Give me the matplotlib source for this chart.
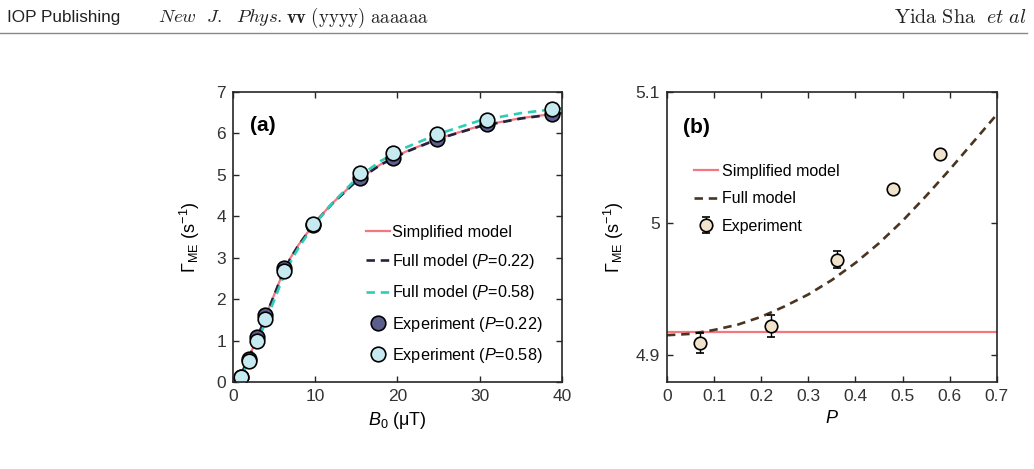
import matplotlib
matplotlib.use("Agg")
import matplotlib.pyplot as plt
from matplotlib.ticker import MultipleLocator, FuncFormatter
from matplotlib.lines import Line2D

plt.rcParams['font.family'] = ['Liberation Sans', 'DejaVu Sans']
plt.rcParams['mathtext.fontset'] = 'custom'
plt.rcParams['mathtext.rm'] = 'Liberation Sans'
plt.rcParams['mathtext.it'] = 'Liberation Sans:italic'
plt.rcParams['mathtext.bf'] = 'Liberation Sans:bold'

# ---- panel (a) data ----
b_exp = [0.97, 1.9, 2.9, 3.9, 6.2, 9.7, 15.5, 19.4, 24.8, 30.9, 38.8]
g_exp_022 = [0.12, 0.55, 1.08, 1.62, 2.75, 3.80, 4.93, 5.40, 5.87, 6.22, 6.47]
g_exp_058 = [0.12, 0.50, 1.00, 1.53, 2.68, 3.82, 5.05, 5.52, 5.98, 6.32, 6.58]

b_model = [0, 1, 2, 3, 4, 5, 6, 7, 8, 10, 12, 15, 18, 21, 25, 30, 35, 40]
g_simple = [0, 0.20, 0.62, 1.10, 1.60, 2.10, 2.60, 3.00, 3.32, 3.86, 4.30, 4.86, 5.26, 5.56, 5.88, 6.18, 6.37, 6.50]
g_full_022 = [0, 0.19, 0.61, 1.09, 1.59, 2.09, 2.59, 2.99, 3.31, 3.85, 4.29, 4.85, 5.25, 5.55, 5.87, 6.17, 6.36, 6.49]
g_full_058 = [0, 0.14, 0.50, 0.97, 1.47, 1.97, 2.47, 2.90, 3.25, 3.83, 4.30, 4.91, 5.34, 5.66, 5.99, 6.31, 6.49, 6.61]

# ---- panel (b) data ----
p_exp = [0.07, 0.22, 0.36, 0.48, 0.58]
g_exp_b = [4.909, 4.922, 4.9725, 5.0265, 5.053]
g_err_b = [0.0075, 0.0085, 0.0066, 0.003, 0.003]

p_model = [0, 0.05, 0.1, 0.15, 0.2, 0.25, 0.3, 0.35, 0.4, 0.45, 0.5, 0.55, 0.6, 0.65, 0.7]
g_simple_b = [4.9178] * len(p_model)
g_full_b = [4.915, 4.916, 4.919, 4.923, 4.929, 4.937, 4.946, 4.957, 4.970,
            4.985, 5.002, 5.021, 5.041, 5.062, 5.083]

c_simple = '#f4777f'
c_full022 = '#23233f'
c_full058 = '#2fcdb8'
c_exp022 = '#5c5f8d'
c_exp058 = '#c6eaf0'
c_fullb = '#4a3520'
c_expb = '#f0e2cb'
c_axis = '#262626'
dash = (0, (3.2, 2.2))

fig = plt.figure(figsize=(10.34, 4.69), dpi=100)

# header
fig.text(0.007, 0.962, 'IOP Publishing', fontsize=12.3, va='center', color='#222222')
fig.text(0.153, 0.962, r'$New\ \ J.\ \ Phys.$', fontsize=13.5, va='center',
         math_fontfamily='cm', color='#222222')
fig.text(0.2765, 0.962, r'$\mathbf{vv}$ $\mathrm{(yyyy)\ aaaaaa}$', fontsize=13.5, va='center',
         math_fontfamily='cm', color='#222222')
fig.text(0.993, 0.962, r'$\mathrm{Yida\ Sha}\ \ et\ al$', fontsize=14.5, va='center',
         ha='right', math_fontfamily='cm', color='#222222')
fig.add_artist(Line2D([0, 0.993], [0.929, 0.929], color='#888888', lw=1.0))

ax1 = fig.add_axes([0.2253, 0.1855, 0.3182, 0.6183])
ax2 = fig.add_axes([0.645, 0.1855, 0.3191, 0.6183])

for ax in (ax1, ax2):
    for s in ax.spines.values():
        s.set_color(c_axis)
        s.set_linewidth(1.2)
    ax.tick_params(direction='in', top=True, right=True, length=4.5, width=1.0,
                   colors=c_axis, labelsize=12.5, pad=5)
    ax.tick_params(labelcolor='#333333')

# panel (a)
ax1.plot(b_model, g_simple, color=c_simple, lw=1.6, label='Simplified model')
ax1.plot(b_model, g_full_022, color=c_full022, lw=1.9, ls=dash, label=r'Full model ($P$=0.22)')
ax1.plot(b_model, g_full_058, color=c_full058, lw=1.9, ls=dash, label=r'Full model ($P$=0.58)')
ax1.plot(b_exp, g_exp_022, 'o', ms=10.5, mfc=c_exp022, mec='black', mew=1.2, label=r'Experiment ($P$=0.22)')
ax1.plot(b_exp, g_exp_058, 'o', ms=10.5, mfc=c_exp058, mec='black', mew=1.2, label=r'Experiment ($P$=0.58)')
ax1.set_xlim(0, 40)
ax1.set_ylim(0, 7)
ax1.xaxis.set_major_locator(MultipleLocator(10))
ax1.yaxis.set_major_locator(MultipleLocator(1))
ax1.set_xlabel(r'$B_0$ (μT)', fontsize=13, labelpad=4)
ax1.set_ylabel(r'$\Gamma_{\rm ME}$ (s$^{-1}$)', fontsize=13, labelpad=10)
ax1.text(0.052, 0.883, '(a)', transform=ax1.transAxes, fontsize=15, fontweight='bold', va='center')
ax1.legend(loc='upper left', bbox_to_anchor=(0.385, 0.565), frameon=False, fontsize=11.7,
           handlelength=1.45, handletextpad=0.15, labelspacing=0.76, borderaxespad=0)

# panel (b)
ax2.plot(p_model, g_simple_b, color=c_simple, lw=1.6, label='Simplified model')
ax2.plot(p_model, g_full_b, color=c_fullb, lw=1.9, ls=dash, label='Full model')
ax2.errorbar(p_exp, g_exp_b, yerr=g_err_b, fmt='o', ms=9, mfc=c_expb, mec='black', mew=1.2,
             ecolor='black', elinewidth=1.0, capsize=3, capthick=1.0, label='Experiment')
ax2.set_xlim(0, 0.7)
ax2.set_ylim(4.8794, 5.1)
ax2.xaxis.set_major_locator(MultipleLocator(0.1))
ax2.set_yticks([4.9, 5.0, 5.1])
ax2.xaxis.set_major_formatter(FuncFormatter(lambda v, p: '%g' % round(v, 2)))
ax2.yaxis.set_major_formatter(FuncFormatter(lambda v, p: '%g' % round(v, 2)))
ax2.set_xlabel(r'$P$', fontsize=13, labelpad=4)
ax2.set_ylabel(r'$\Gamma_{\rm ME}$ (s$^{-1}$)', fontsize=13, labelpad=7)
ax2.text(0.048, 0.879, '(b)', transform=ax2.transAxes, fontsize=15, fontweight='bold', va='center')
ax2.legend(loc='upper left', bbox_to_anchor=(0.064, 0.775), frameon=False, fontsize=11.5,
           handlelength=1.5, handletextpad=0.2, labelspacing=0.78, borderaxespad=0)

fig.savefig('out.png', dpi=100)
